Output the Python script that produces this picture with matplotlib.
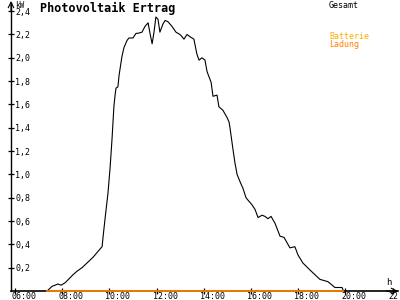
#!/usr/bin/python3
# coding: utf-8

import matplotlib
matplotlib.use('Agg')
import matplotlib.pyplot as plt
from matplotlib.ticker import FixedLocator, FuncFormatter
from matplotlib.transforms import ScaledTranslation

plt.rcParams['font.family'] = ['DejaVu Sans Mono']

# Gesamt (total output), time in hours, power in kW
gesamt_h = [7.36, 7.57, 7.82, 7.95, 8.12, 8.46, 8.63, 8.84, 9.05, 9.31, 9.56, 9.69,
            9.73, 9.81, 9.94, 10.03, 10.11, 10.19, 10.24, 10.28, 10.36, 10.41, 10.53,
            10.62, 10.75, 10.83, 11.00, 11.13, 11.21, 11.38, 11.51, 11.64, 11.72,
            11.81, 11.89, 11.97, 12.06, 12.14, 12.27, 12.36, 12.48, 12.65, 12.82,
            12.99, 13.08, 13.16, 13.29, 13.42, 13.58, 13.71, 13.80, 13.92, 14.05,
            14.14, 14.31, 14.39, 14.56, 14.64, 14.81, 14.98, 15.07, 15.11, 15.24,
            15.32, 15.41, 15.53, 15.66, 15.79, 15.87, 16.04, 16.17, 16.30, 16.47,
            16.59, 16.72, 16.85, 17.02, 17.23, 17.40, 17.65, 17.86, 17.99, 18.20,
            18.50, 18.71, 18.92, 19.26, 19.56, 19.86, 19.90]
gesamt_kw = [0.00, 0.04, 0.06, 0.05, 0.07, 0.14, 0.17, 0.20, 0.24, 0.29, 0.35, 0.38,
             0.46, 0.61, 0.84, 1.06, 1.30, 1.58, 1.68, 1.74, 1.75, 1.85, 2.01,
             2.09, 2.15, 2.17, 2.17, 2.21, 2.21, 2.22, 2.27, 2.30, 2.21,
             2.12, 2.22, 2.35, 2.33, 2.22, 2.29, 2.32, 2.31, 2.27, 2.22,
             2.20, 2.18, 2.16, 2.20, 2.18, 2.16, 2.03, 1.98, 2.00, 1.98,
             1.88, 1.79, 1.67, 1.68, 1.58, 1.55, 1.49, 1.45, 1.40, 1.21,
             1.10, 1.00, 0.94, 0.88, 0.80, 0.78, 0.74, 0.70, 0.63, 0.65,
             0.64, 0.62, 0.64, 0.58, 0.47, 0.46, 0.37, 0.38, 0.31, 0.24,
             0.18, 0.14, 0.10, 0.08, 0.03, 0.03, 0.01]

# Ladung (battery charge) stays at zero over the day
ladung_h = [7.36, 19.90]
ladung_kw = [0.0, 0.0]

x_ticks = [6, 8, 10, 12, 14, 16, 18, 20, 22]
y_ticks = [0.2, 0.4, 0.6, 0.8, 1.0, 1.2, 1.4, 1.6, 1.8, 2.0, 2.2, 2.4]

fig = plt.figure(figsize=(4, 3), dpi=100)
ax = fig.add_axes([11 / 400, 9 / 300, 387 / 400, 288 / 300])
ax.set_xlim(5.83, 22.23)
ax.set_ylim(0, 2.47)

ax.plot(gesamt_h, gesamt_kw, color='black', lw=0.8)
ax.plot(ladung_h, ladung_kw, color='#ff8000', lw=1.3,
        clip_on=False, zorder=5)

for s in ['top', 'right']:
    ax.spines[s].set_visible(False)
ax.spines['left'].set_linewidth(1.0)
ax.spines['bottom'].set_linewidth(1.2)

ax.xaxis.set_major_locator(FixedLocator(x_ticks))
ax.xaxis.set_major_formatter(FuncFormatter(lambda v, p: '%02d:00' % v))
ax.yaxis.set_major_locator(FixedLocator(y_ticks))
ax.yaxis.set_major_formatter(FuncFormatter(lambda v, p: ('%.1f' % v).replace('.', ',')))

ax.tick_params(axis='x', direction='inout', length=5, width=0.9, pad=-1.5, labelsize=6)
ax.tick_params(axis='y', direction='inout', length=4.5, width=0.9, pad=-5.2, labelsize=6)
for lab in ax.get_yticklabels():
    lab.set_horizontalalignment('left')
for lab in ax.get_xticklabels():
    lab.set_horizontalalignment('left')
    lab.set_transform(lab.get_transform() + ScaledTranslation(-4 / 100, 0, fig.dpi_scale_trans))

# axis arrows
ax.annotate('', xy=(1.0, 0), xytext=(0.97, 0), xycoords='axes fraction',
            arrowprops=dict(arrowstyle='->', lw=0.8, color='black', shrinkA=0, shrinkB=0))
ax.annotate('', xy=(0, 1.007), xytext=(0, 0.97), xycoords='axes fraction',
            arrowprops=dict(arrowstyle='->', lw=0.8, color='black', shrinkA=0, shrinkB=0))

fig.text(15 / 400, 1 - 1 / 300, 'kW', fontsize=5.5, va='top', ha='left')
fig.text(386 / 400, 1 - 278 / 300, 'h', fontsize=6.5, va='top', ha='left')
fig.text(40 / 400, 1 - 2 / 300, 'Photovoltaik Ertrag', fontsize=8.5,
         fontweight='bold', va='top', ha='left')
fig.text(329 / 400, 1 - 1 / 300, 'Gesamt', fontsize=6, va='top', ha='left', color='black')
fig.text(329 / 400, 1 - 32 / 300, 'Batterie', fontsize=6, va='top', ha='left', color='#ffaa00')
fig.text(329 / 400, 1 - 40 / 300, 'Ladung', fontsize=6, va='top', ha='left', color='#ff8000')

fig.savefig('out.png', dpi=100)
